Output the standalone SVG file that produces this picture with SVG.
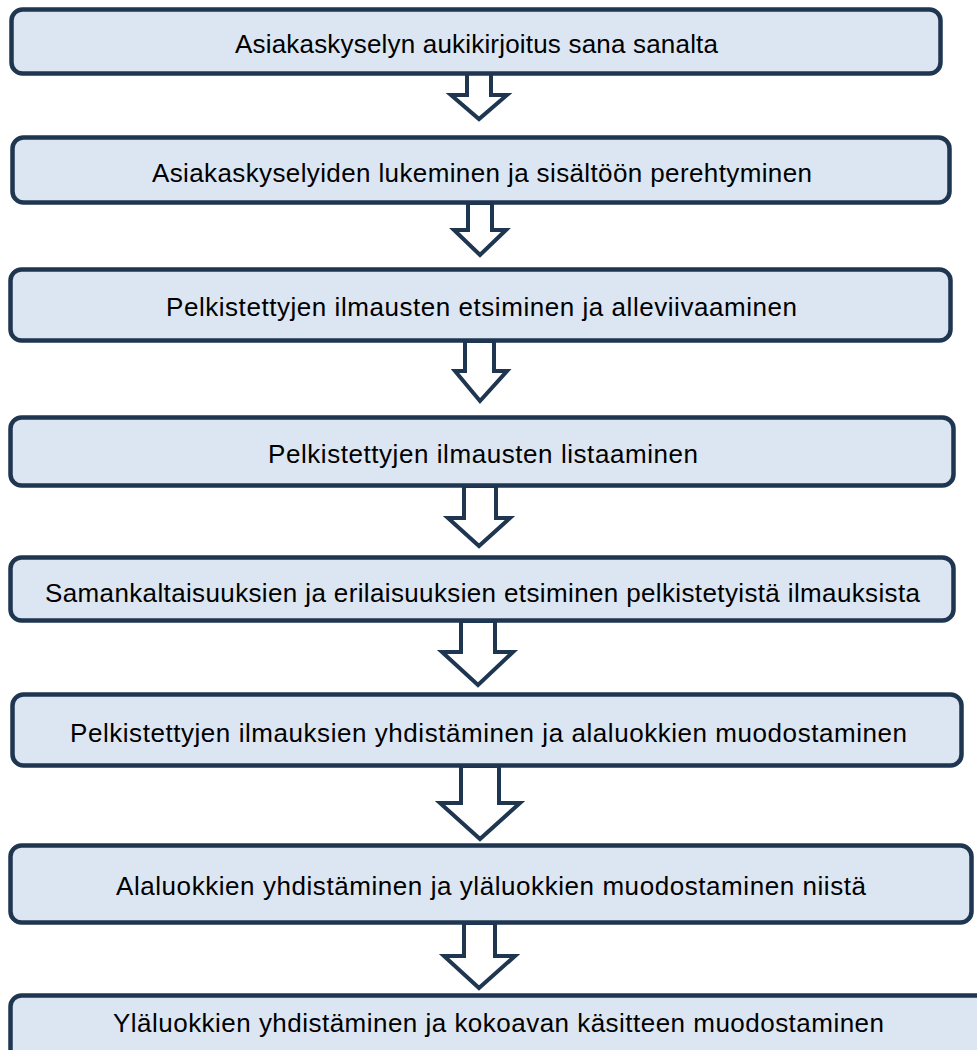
<svg xmlns="http://www.w3.org/2000/svg" width="977" height="1050" viewBox="0 0 977 1050">
<style>
.box{fill:#dce6f2;stroke:#1f3651;stroke-width:4.5}
.arr{fill:#ffffff;stroke:#1f3651;stroke-width:4;stroke-linejoin:miter}
.t{font-family:"Liberation Sans",Arial,sans-serif;font-size:26px;fill:#000;text-anchor:middle}
</style>
<rect width="977" height="1050" fill="#ffffff"/>
<g id="connectors">
<polygon class="arr" points="467,72 491,72 491,95 507,95 479,119 451,95 467,95"/>
<polygon class="arr" points="468,203 492,203 492,230 506,230 480,255 454,230 468,230"/>
<polygon class="arr" points="465,341 494,341 494,371 507,371 480,401 455,371 465,371"/>
<polygon class="arr" points="464,486 496,486 496,518 510,518 479,546 448,518 464,518"/>
<polygon class="arr" points="461,621 495,621 495,652 513,652 478,685 442,652 461,652"/>
<polygon class="arr" points="461,766 499,766 499,803 520,803 480,839 440,803 461,803"/>
<polygon class="arr" points="464,923 495,923 495,956 515,956 479,988 444,956 464,956"/>
</g>
<g id="n1"><rect class="box" x="11.5" y="9.5" width="929" height="64" rx="11"/><text class="t" x="476.5" y="53" textLength="483">Asiakaskyselyn aukikirjoitus sana sanalta</text></g>
<g id="n2"><rect class="box" x="12.5" y="137.5" width="937" height="65" rx="11"/><text class="t" x="482" y="182" textLength="660">Asiakaskyselyiden lukeminen ja sisältöön perehtyminen</text></g>
<g id="n3"><rect class="box" x="10.5" y="269.5" width="940" height="71" rx="11"/><text class="t" x="481.5" y="316" textLength="631">Pelkistettyjen ilmausten etsiminen ja alleviivaaminen</text></g>
<g id="n4"><rect class="box" x="10.5" y="417.5" width="943" height="68" rx="11"/><text class="t" x="483" y="463" textLength="430">Pelkistettyjen ilmausten listaaminen</text></g>
<g id="n5"><rect class="box" x="10.5" y="557.5" width="943" height="63" rx="11"/><text class="t" x="482.5" y="602" textLength="875">Samankaltaisuuksien ja erilaisuuksien etsiminen pelkistetyistä ilmauksista</text></g>
<g id="n6"><rect class="box" x="12.5" y="694.5" width="949" height="71" rx="11"/><text class="t" x="488.5" y="742" textLength="837">Pelkistettyjen ilmauksien yhdistäminen ja alaluokkien muodostaminen</text></g>
<g id="n7"><rect class="box" x="10.5" y="845.5" width="961" height="77" rx="11"/><text class="t" x="491" y="895" textLength="750">Alaluokkien yhdistäminen ja yläluokkien muodostaminen niistä</text></g>
<g id="n8"><rect class="box" x="10.5" y="995.5" width="985" height="80" rx="11"/><text class="t" x="498.5" y="1032" textLength="771">Yläluokkien yhdistäminen ja kokoavan käsitteen muodostaminen</text></g>
</svg>
